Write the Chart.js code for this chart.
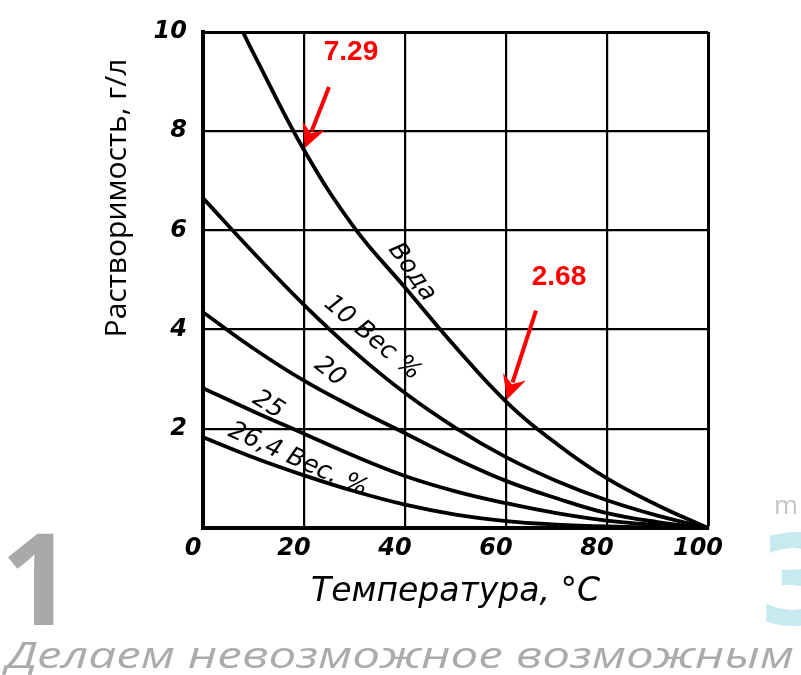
<!DOCTYPE html>
<html>
<head>
<meta charset="utf-8">
<title>Растворимость</title>
<script src="https://cdn.jsdelivr.net/npm/chart.js@4.4.1/dist/chart.umd.min.js"></script>
<style>
  html, body { margin: 0; padding: 0; background: #fff; }
  #wrap { width: 801px; height: 675px; }
</style>
</head>
<body>
<div id="wrap"><canvas id="solubilityChart" width="801" height="675"></canvas></div>
<script>
// temperatures, °C
const temps = [0, 10, 20, 30, 40, 50, 60, 70, 80, 90, 100];
// water curve enters the frame at ~8 °C
const waterTemps = [7.9, 10, 20, 30, 40, 50, 60, 70, 80, 90, 100];

// solubility, g/l
const water = [10, 9.57, 7.62, 6.05, 4.85, 3.65, 2.55, 1.7, 1.0, 0.46, 0];
const wt10 = [6.65, 5.55, 4.5, 3.55, 2.72, 2.02, 1.43, 0.95, 0.56, 0.25, 0];
const wt20 = [4.35, 3.62, 2.97, 2.42, 1.91, 1.4, 0.95, 0.6, 0.3, 0.12, 0];
const wt25 = [2.82, 2.35, 1.9, 1.45, 1.05, 0.74, 0.5, 0.3, 0.15, 0.06, 0];
const wt264 = [1.83, 1.42, 1.06, 0.74, 0.47, 0.27, 0.14, 0.07, 0.03, 0.01, 0];

const xTicks = [0, 20, 40, 60, 80, 100];
const yTicks = [0, 2, 4, 6, 8, 10];

// curve captions: text, position (data units), angle in degrees
const curveLabels = [
  { text: "Вода", x: 41.4, y: 5.16, angle: 55 },
  { text: "10 Вес %", x: 33.5, y: 3.83, angle: 40 },
  { text: "20", x: 25.1, y: 3.15, angle: 38 },
  { text: "25", x: 12.9, y: 2.48, angle: 32 },
  { text: "26,4 Вес. %", x: 18.8, y: 1.37, angle: 24 },
];

// red call-outs: value text and the point the arrow touches
const callouts = [
  { text: "7.29", x: 20, y: 7.62 },
  { text: "2.68", x: 60, y: 2.55 },
];
// pixel offsets from the touched point: [text dx, text dy, tail dx, tail dy]
const calloutOffsets = [
  [47, -98, 25, -63],
  [53, -124, 30, -91],
];

const pts = (xs, ys) => xs.map((x, i) => ({ x: x, y: ys[i] }));

const curve = (label, data) => ({
  label: label,
  data: data,
  borderColor: "#000",
  borderWidth: 3.8,
  pointRadius: 0,
  tension: 0.4,
  fill: false,
});

const drawArrow = (ctx, x0, y0, x1, y1) => {
  const a = Math.atan2(y1 - y0, x1 - x0);
  const headLen = 24;
  const bx = x1 - headLen * Math.cos(a);
  const by = y1 - headLen * Math.sin(a);
  ctx.beginPath();
  ctx.moveTo(x0, y0);
  ctx.lineTo(bx + 6 * Math.cos(a), by + 6 * Math.sin(a));
  ctx.stroke();
  ctx.beginPath();
  ctx.moveTo(x1, y1);
  ctx.lineTo(bx + 12 * Math.cos(a + Math.PI / 2), by + 12 * Math.sin(a + Math.PI / 2));
  ctx.lineTo(bx + 8 * Math.cos(a), by + 8 * Math.sin(a));
  ctx.lineTo(bx + 12 * Math.cos(a - Math.PI / 2), by + 12 * Math.sin(a - Math.PI / 2));
  ctx.closePath();
  ctx.fill();
};

const extras = {
  id: "extras",
  afterDraw(chart) {
    const ctx = chart.ctx;
    const xs = chart.scales.x;
    const ys = chart.scales.y;

    // y axis title
    ctx.save();
    ctx.translate(117, 198);
    ctx.rotate(-Math.PI / 2);
    ctx.fillStyle = "#000";
    ctx.font = '30px "Open Sans"';
    ctx.textAlign = "center";
    ctx.textBaseline = "middle";
    ctx.fillText("Растворимость, г/л", 0, 0);
    ctx.restore();

    // captions along the curves
    curveLabels.forEach((l) => {
      ctx.save();
      ctx.translate(xs.getPixelForValue(l.x), ys.getPixelForValue(l.y));
      ctx.rotate((l.angle * Math.PI) / 180);
      ctx.fillStyle = "#000";
      ctx.font = 'italic 25px "DejaVu Sans"';
      ctx.textAlign = "center";
      ctx.textBaseline = "middle";
      ctx.fillText(l.text, 0, 0);
      ctx.restore();
    });

    // red call-outs
    ctx.save();
    ctx.fillStyle = "#ff0000";
    ctx.strokeStyle = "#ff0000";
    ctx.lineWidth = 4;
    ctx.font = 'bold 28px "Liberation Sans", Arial, sans-serif';
    ctx.textAlign = "center";
    ctx.textBaseline = "middle";
    callouts.forEach((c, i) => {
      const o = calloutOffsets[i];
      const px = xs.getPixelForValue(c.x);
      const py = ys.getPixelForValue(c.y);
      ctx.fillText(c.text, px + o[0], py + o[1]);
      drawArrow(ctx, px + o[2], py + o[3], px + 1, py - 2);
    });
    ctx.restore();

    // watermark
    ctx.save();
    ctx.textBaseline = "alphabetic";
    ctx.fillStyle = "#a9a9a9";
    ctx.font = 'bold 128px "Open Sans"';
    ctx.textAlign = "center";
    ctx.fillText("1", 37, 625);
    ctx.fillStyle = "#c7e9f0";
    ctx.font = 'bold 124px "DejaVu Sans"';
    ctx.textAlign = "left";
    ctx.fillText("3", 758, 624);
    ctx.fillStyle = "#c4c4c4";
    ctx.font = '26px "Open Sans"';
    ctx.textAlign = "center";
    ctx.fillText("m", 786, 514);
    ctx.fillStyle = "#ababab";
    ctx.font = 'italic 36px "Open Sans"';
    ctx.textAlign = "left";
    const w = ctx.measureText("Делаем невозможное возможным").width;
    ctx.translate(6, 668);
    ctx.scale(788 / w, 1);
    ctx.fillText("Делаем невозможное возможным", 0, 0);
    ctx.restore();
  },
};

new Chart(document.getElementById("solubilityChart"), {
  type: "line",
  data: {
    datasets: [
      curve("Вода", pts(waterTemps, water)),
      curve("10 вес %", pts(temps, wt10)),
      curve("20", pts(temps, wt20)),
      curve("25", pts(temps, wt25)),
      curve("26,4 вес. %", pts(temps, wt264)),
    ],
  },
  options: {
    responsive: false,
    animation: false,
    layout: { padding: { left: 0, top: 32, right: 93, bottom: 63 } },
    plugins: { legend: { display: false }, tooltip: { enabled: false } },
    scales: {
      x: {
        type: "linear",
        min: 0,
        max: 100,
        afterFit: (s) => { s.height = 84; },
        afterBuildTicks: (s) => { s.ticks = xTicks.map((v) => ({ value: v })); },
        grid: {
          color: "#000",
          lineWidth: (c) => (c.index === xTicks.length - 1 ? 3 : 2.2),
          drawTicks: false,
        },
        border: { color: "#000", width: 4 },
        ticks: {
          color: "#000",
          font: { family: "DejaVu Sans", style: "italic", weight: "bold", size: 24 },
          padding: 6,
          labelOffset: -10,
          maxRotation: 0,
        },
        title: {
          display: true,
          text: "Температура, °C",
          color: "#000",
          font: { family: "DejaVu Sans", style: "italic", size: 33 },
          padding: { top: 0, bottom: 0 },
        },
      },
      y: {
        min: 0,
        max: 10,
        afterFit: (s) => { s.width = 203; },
        afterBuildTicks: (s) => { s.ticks = yTicks.map((v) => ({ value: v })); },
        grid: {
          color: "#000",
          lineWidth: (c) => (c.index === yTicks.length - 1 ? 3 : 2.2),
          drawTicks: false,
        },
        border: { color: "#000", width: 4 },
        ticks: {
          color: "#000",
          font: { family: "DejaVu Sans", style: "italic", weight: "bold", size: 24 },
          padding: 16,
          callback: (v) => (v === 0 ? "" : v),
        },
      },
    },
  },
  plugins: [extras],
});
</script>
</body>
</html>
